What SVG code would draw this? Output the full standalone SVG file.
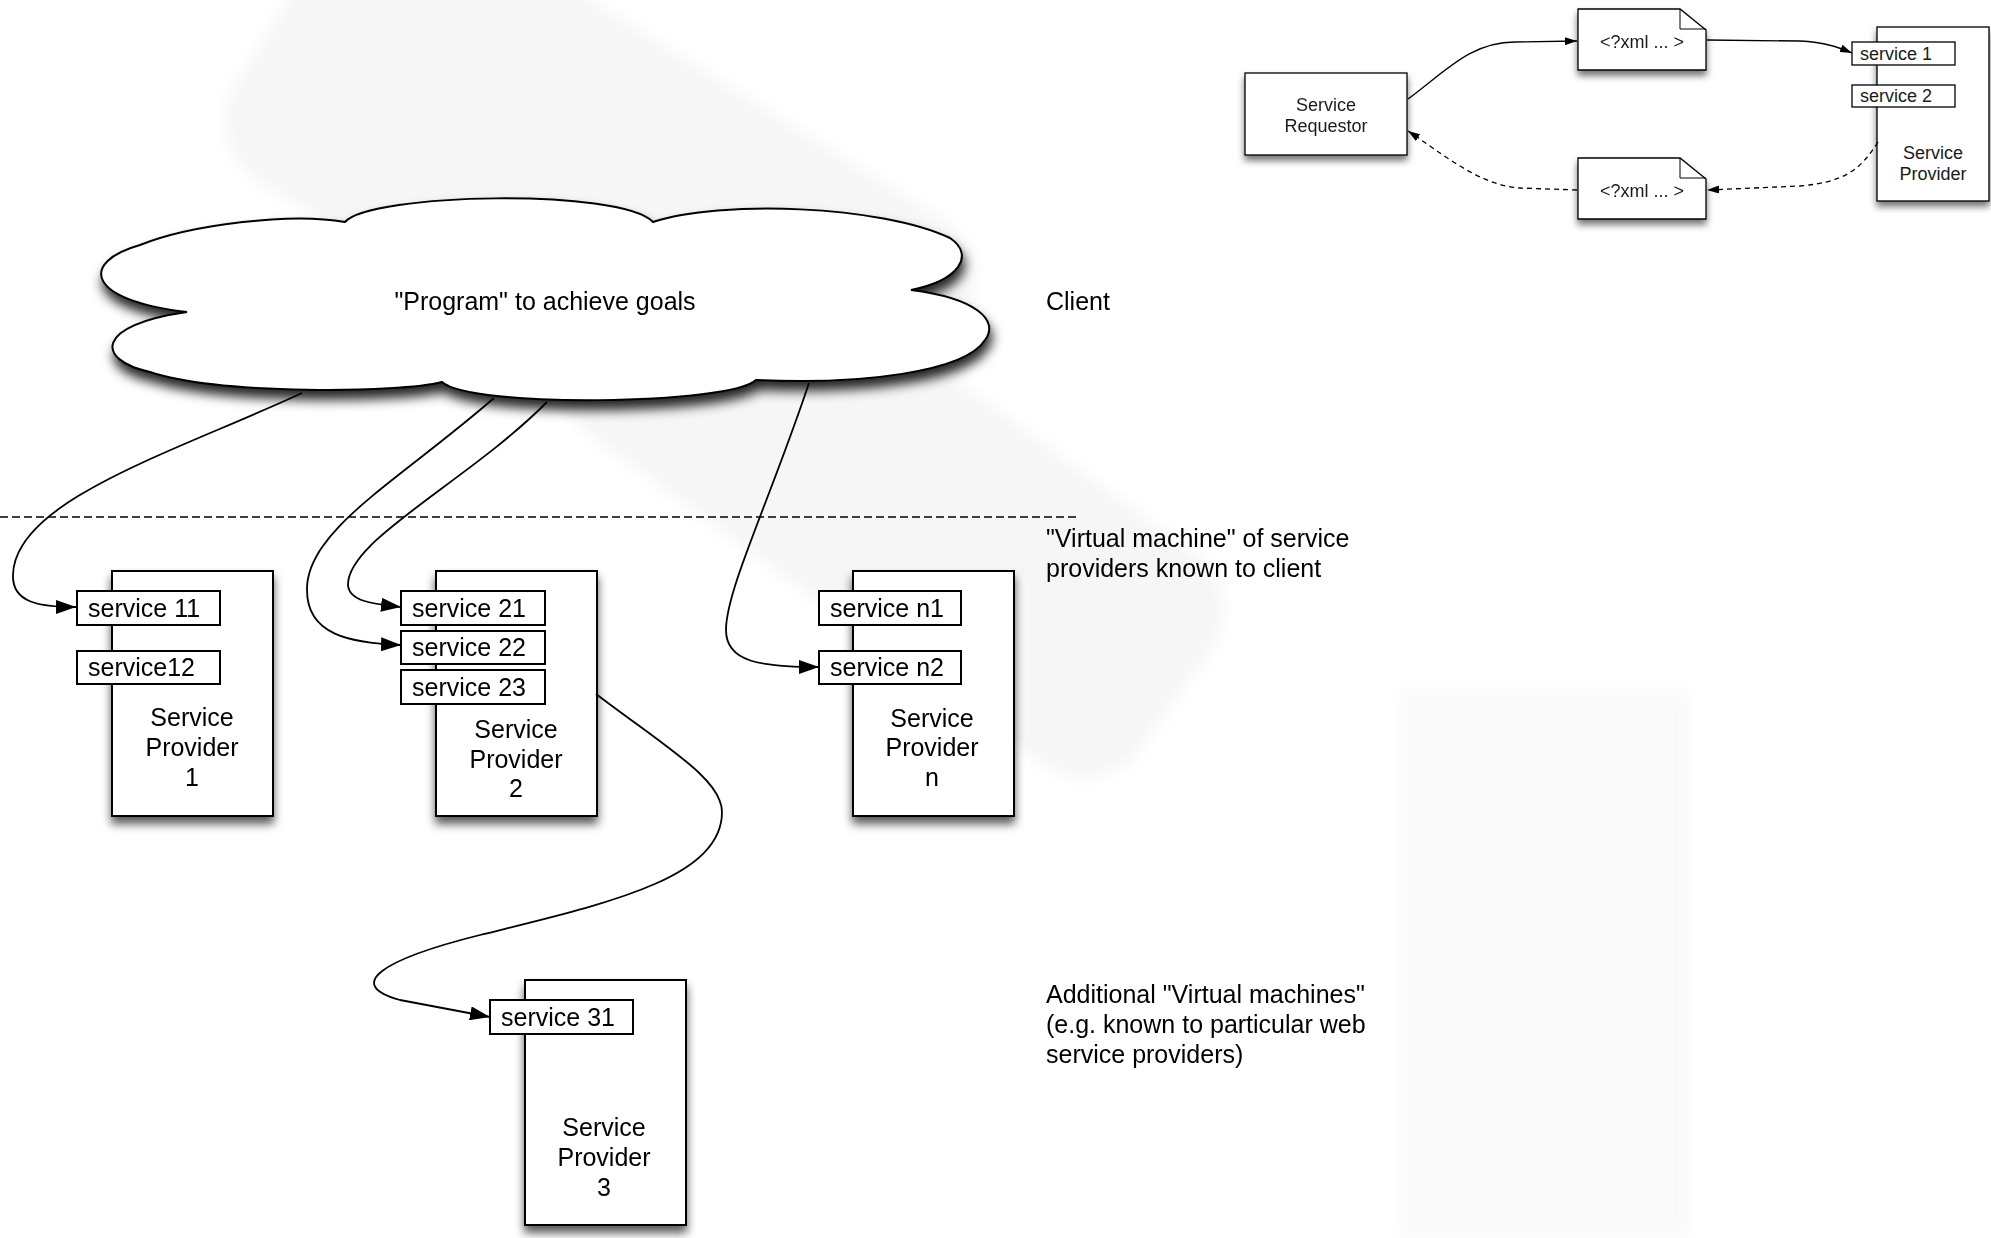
<svg xmlns="http://www.w3.org/2000/svg" width="1991" height="1238" viewBox="0 0 1991 1238">
  <style>
    .txt { font-family: "Liberation Sans", Arial, Helvetica, sans-serif; font-size: 25px; fill: #000; }
    .mid { text-anchor: middle; }
    .sm { font-size: 18px; fill: #1a1a1a; }
    .provider { fill: #fff; stroke: #000; stroke-width: 2; filter: url(#shadow); }
    .svc { fill: #fff; stroke: #000; stroke-width: 2; }
    .small-box { fill: #fff; stroke: #000; stroke-width: 1.3; filter: url(#shadowSm); }
    .small-svc { fill: #fff; stroke: #000; stroke-width: 1.3; }
    .link { fill: none; stroke: #000; stroke-width: 1.8; marker-end: url(#arrow); }
    .thin { fill: none; stroke: #000; stroke-width: 1.3; marker-end: url(#arrowSm); }
    .thin-dash { fill: none; stroke: #000; stroke-width: 1.3; stroke-dasharray: 5 4; marker-end: url(#arrowSm); }
    .mark { fill: #f6f6f6; }
  </style>
  <defs>
    <filter id="shadow" x="-20%" y="-10%" width="140%" height="125%">
      <feDropShadow dx="0" dy="7" stdDeviation="5" flood-color="#000" flood-opacity="0.65"/>
    </filter>
    <filter id="shadowSm" x="-20%" y="-20%" width="140%" height="150%">
      <feDropShadow dx="0" dy="5" stdDeviation="3.5" flood-color="#000" flood-opacity="0.55"/>
    </filter>
    <filter id="cloudShadow" x="-10%" y="-10%" width="120%" height="130%">
      <feDropShadow dx="2" dy="9" stdDeviation="6" flood-color="#000" flood-opacity="0.85"/>
    </filter>
    <filter id="soft" x="-20%" y="-20%" width="140%" height="140%">
      <feGaussianBlur stdDeviation="8"/>
    </filter>
    <marker id="arrow" markerUnits="userSpaceOnUse" viewBox="0 0 20 14" markerWidth="20" markerHeight="14" refX="20" refY="7" orient="auto">
      <path d="M0,0 L20,7 L0,14 z" fill="#000"/>
    </marker>
    <marker id="arrowSm" markerUnits="userSpaceOnUse" viewBox="0 0 12 8" markerWidth="12" markerHeight="8" refX="12" refY="4" orient="auto">
      <path d="M0,0 L12,4 L0,8 z" fill="#000"/>
    </marker>
  </defs>

  <rect width="1991" height="1238" fill="#fff"/>

  <!-- faint background emblem -->
  <g id="emblem" filter="url(#soft)">
    <rect class="mark" x="-370" y="-165" width="740" height="330" rx="70" transform="translate(600 200) rotate(32)"/>
    <rect class="mark" x="-360" y="-130" width="700" height="260" rx="70" transform="translate(900 500) rotate(36)"/>
    <rect x="1400" y="690" width="290" height="548" fill="#f9f9f9"/>
  </g>

  <!-- top-right: requestor / provider exchange -->
  <g id="service-requestor">
    <rect class="small-box" x="1245" y="73" width="162" height="82"/>
    <text class="txt sm mid" x="1326" y="111">Service</text>
    <text class="txt sm mid" x="1326" y="132">Requestor</text>
  </g>
  <g id="xml-request">
    <path class="small-box" d="M1578,9 H1680 L1706,30 V70 H1578 Z"/>
    <path d="M1680,9 V29 H1706" fill="none" stroke="#000" stroke-width="1"/>
    <text class="txt sm mid" x="1642" y="48">&lt;?xml ... &gt;</text>
  </g>
  <g id="xml-response">
    <path class="small-box" d="M1578,158 H1680 L1706,179 V219 H1578 Z"/>
    <path d="M1680,158 V178 H1706" fill="none" stroke="#000" stroke-width="1"/>
    <text class="txt sm mid" x="1642" y="197">&lt;?xml ... &gt;</text>
  </g>
  <g id="service-provider-top">
    <rect class="small-box" x="1877" y="27" width="112" height="174"/>
    <rect class="small-svc" x="1852" y="42" width="103" height="23"/>
    <text class="txt sm" x="1860" y="60">service 1</text>
    <rect class="small-svc" x="1852" y="85" width="103" height="22"/>
    <text class="txt sm" x="1860" y="102">service 2</text>
    <text class="txt sm mid" x="1933" y="159">Service</text>
    <text class="txt sm mid" x="1933" y="180">Provider</text>
  </g>

  <!-- cloud: client program -->
  <g id="client-program">
    <path filter="url(#cloudShadow)" fill="#fff" stroke="#000" stroke-width="2"
      d="M345,222 C370,193 620,188 653,222
         C720,200 880,205 950,238
         C975,255 960,280 911,290
         C975,298 1000,320 985,340
         C965,372 860,385 756,380
         C730,405 470,408 442,382
         C400,393 220,395 150,372
         C95,360 95,325 187,312
         C85,300 80,262 140,245
         C190,225 290,212 345,222 Z"/>
    <text class="txt mid" x="545" y="310">"Program" to achieve goals</text>
  </g>

  <!-- providers -->
  <g id="provider-1">
    <rect class="provider" x="112" y="571" width="161" height="245"/>
    <rect class="svc" x="77" y="591" width="143" height="34"/>
    <text class="txt" x="88" y="617">service 11</text>
    <rect class="svc" x="77" y="651" width="143" height="33"/>
    <text class="txt" x="88" y="676">service12</text>
    <text class="txt mid" x="192" y="726">Service</text>
    <text class="txt mid" x="192" y="756">Provider</text>
    <text class="txt mid" x="192" y="786">1</text>
  </g>
  <g id="provider-2">
    <rect class="provider" x="436" y="571" width="161" height="245"/>
    <rect class="svc" x="401" y="591" width="144" height="34"/>
    <text class="txt" x="412" y="617">service 21</text>
    <rect class="svc" x="401" y="631" width="144" height="33"/>
    <text class="txt" x="412" y="656">service 22</text>
    <rect class="svc" x="401" y="670" width="144" height="34"/>
    <text class="txt" x="412" y="696">service 23</text>
    <text class="txt mid" x="516" y="738">Service</text>
    <text class="txt mid" x="516" y="768">Provider</text>
    <text class="txt mid" x="516" y="797">2</text>
  </g>
  <g id="provider-n">
    <rect class="provider" x="853" y="571" width="161" height="245"/>
    <rect class="svc" x="819" y="591" width="142" height="34"/>
    <text class="txt" x="830" y="617">service n1</text>
    <rect class="svc" x="819" y="651" width="142" height="33"/>
    <text class="txt" x="830" y="676">service n2</text>
    <text class="txt mid" x="932" y="727">Service</text>
    <text class="txt mid" x="932" y="756">Provider</text>
    <text class="txt mid" x="932" y="786">n</text>
  </g>
  <g id="provider-3">
    <rect class="provider" x="525" y="980" width="161" height="245"/>
    <rect class="svc" x="490" y="1000" width="143" height="34"/>
    <text class="txt" x="501" y="1026">service 31</text>
    <text class="txt mid" x="604" y="1136">Service</text>
    <text class="txt mid" x="604" y="1166">Provider</text>
    <text class="txt mid" x="604" y="1196">3</text>
  </g>

  <!-- side labels -->
  <g id="labels">
    <text class="txt" x="1046" y="310">Client</text>
    <text class="txt" x="1046" y="547">"Virtual machine" of service</text>
    <text class="txt" x="1046" y="577">providers known to client</text>
    <text class="txt" x="1046" y="1003">Additional "Virtual machines"</text>
    <text class="txt" x="1046" y="1033">(e.g. known to particular web</text>
    <text class="txt" x="1046" y="1063">service providers)</text>
  </g>

  <!-- connectors -->
  <g id="connectors">
    <line x1="0" y1="517" x2="1079" y2="517" stroke="#000" stroke-width="1.5" stroke-dasharray="8 4"/>
    <path class="link" d="M302,393 C180,450 14,500 13,575 C12,603 40,607 76,607"/>
    <path class="link" d="M494,398 C400,480 306,530 307,590 C307,635 350,643 401,645"/>
    <path class="link" d="M547,402 C470,480 347,540 348,585 C349,602 375,604 401,607"/>
    <path class="link" d="M809,383 C770,500 726,590 726,630 C726,662 760,667 819,667"/>
    <path class="link" d="M596,694 C670,750 722,780 722,812 C722,880 600,905 480,935 C380,960 345,985 400,1000 L490,1017"/>
    <path class="thin" d="M1408,99 C1445,72 1470,42 1515,42 L1577,41"/>
    <path class="thin" d="M1707,40 L1800,41 C1825,42 1840,48 1852,53"/>
    <path class="thin-dash" d="M1878,142 C1860,170 1845,182 1800,186 L1707,190"/>
    <path class="thin-dash" d="M1577,190 L1520,188 C1480,186 1440,152 1408,131"/>
  </g>
</svg>
